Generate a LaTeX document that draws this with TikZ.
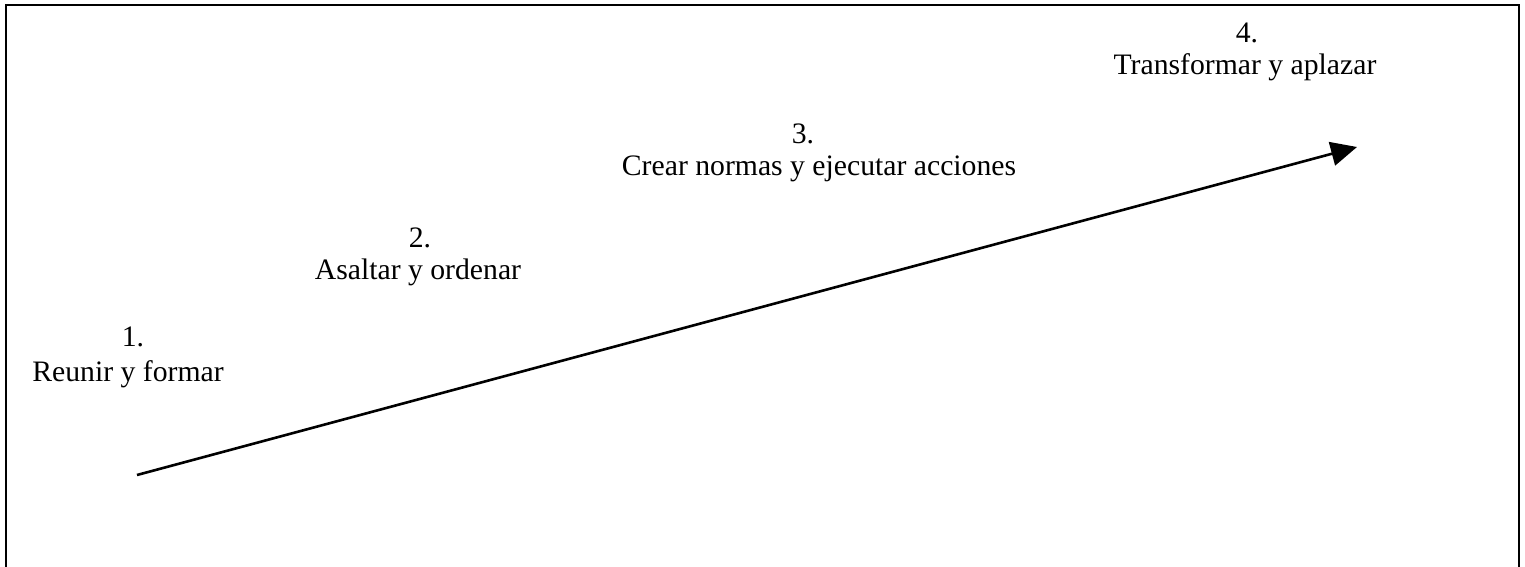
\documentclass[tikz,border=0pt]{standalone}
\usepackage{fontspec}
\setmainfont{Liberation Serif}
\usetikzlibrary{arrows.meta}
\begin{document}
\begin{tikzpicture}[x=1pt,y=-1pt,
  lbl/.style={anchor=base,inner sep=0pt,font=\fontsize{29.7}{34}\selectfont},
  frameline/.style={line width=2pt,black},
  arrowline/.style={line width=2.6pt,-{Triangle[length=26pt,width=24pt]}}]
\useasboundingbox (0,0) rectangle (1525,567);
% frame (open at bottom)
\coordinate (fbl) at (6,570);
\coordinate (ftl) at (6,5);
\coordinate (ftr) at (1519,5);
\coordinate (fbr) at (1519,570);
\draw[frameline] (fbl) -- (ftl) -- (ftr) -- (fbr);
% labels
\node[lbl] (n1) at (133,346) {1.};
\node[lbl] (t1) at (128,381) {Reunir y formar};
\node[lbl] (n2) at (420,247) {2.};
\node[lbl] (t2) at (418,279) {Asaltar y ordenar};
\node[lbl] (n3) at (803,143) {3.};
\node[lbl] (t3) at (819,175) {Crear normas y ejecutar acciones};
\node[lbl] (n4) at (1247,43) {4.};
\node[lbl] (t4) at (1245,75) {Transformar y aplazar};
% arrow
\coordinate (as) at (137,475);
\coordinate (ae) at (1357,147);
\draw[arrowline] (as) -- (ae);
\end{tikzpicture}
\end{document}
